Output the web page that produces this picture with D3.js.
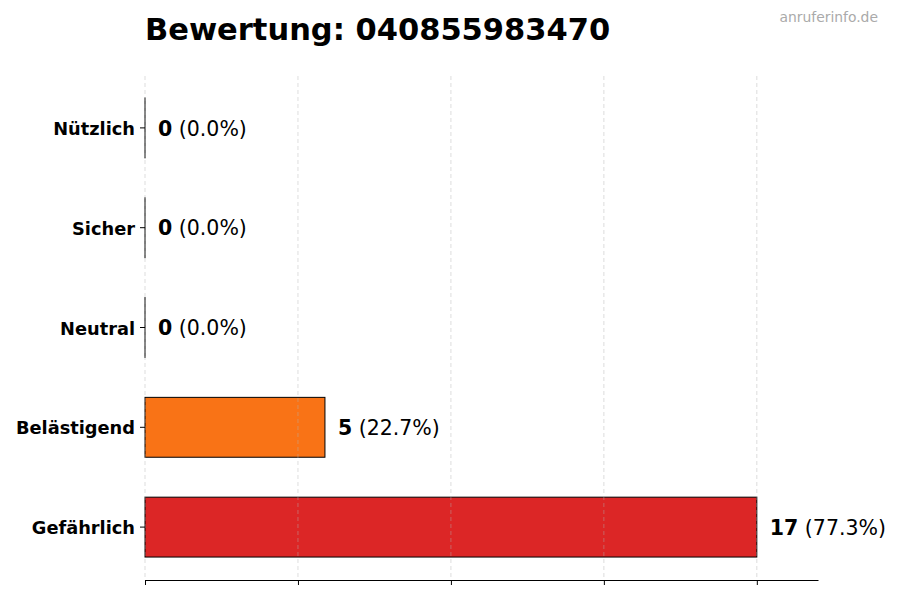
<!DOCTYPE html>
<html><head><meta charset="utf-8">
<script src="https://cdn.jsdelivr.net/npm/d3@7"></script>
<style>body{margin:0;background:#fff}svg{display:block;font-family:"DejaVu Sans",sans-serif}</style>
</head><body><svg id="c" width="900" height="600"></svg>
<script>
const categories = ["Gefährlich","Belästigend","Neutral","Sicher","Nützlich"];
const counts = [17,5,0,0,0];
const percents = ["77.3%","22.7%","0.0%","0.0%","0.0%"];
const colors = ["#dc2626","#f97316","#9ca3af","#16a34a","#2563eb"];
const titleText = "Bewertung: 040855983470";
const watermark = "anruferinfo.de";

(function(){
const svg = d3.select("#c");
const mL = 145, mR = 818, mT = 76, mB = 580;
const maxV = d3.max(counts);
const x = d3.scaleLinear().domain([0, maxV*1.1]).range([mL, mR]);
const y = d3.scaleLinear().domain([-0.53, 4.52]).range([mB, mT]);
const barH = 0.6;
const tickVals = d3.range(0,5).map(i => i*maxV/4);

svg.append("g").selectAll("rect").data(categories).join("rect")
  .attr("x", x(0))
  .attr("y", (d,i) => y(i+barH/2))
  .attr("width", (d,i) => Math.max(0.01, x(counts[i]) - x(0)))
  .attr("height", y(0) - y(barH))
  .attr("fill", (d,i) => colors[i])
  .attr("stroke", "#000").attr("stroke-width", 1);

svg.append("g").selectAll("line").data(tickVals).join("line")
  .attr("x1", d => x(d)).attr("x2", d => x(d))
  .attr("y1", mT).attr("y2", mB)
  .attr("stroke", "#b0b0b0").attr("stroke-opacity", 0.55)
  .attr("stroke-dasharray", "4,3").attr("stroke-width", 0.8);

const xAxis = d3.axisBottom(x).tickValues(tickVals).tickFormat("").tickSize(5).tickSizeOuter(0);
const gx = svg.append("g").attr("transform", `translate(0,${mB})`).call(xAxis);
gx.select(".domain").attr("stroke","#000").attr("stroke-width",1);
gx.selectAll(".tick line").attr("stroke","#000");

const gy = svg.append("g");
categories.forEach((c,i) => {
  gy.append("line").attr("x1", mL-5).attr("x2", mL).attr("y1", y(i)).attr("y2", y(i)).attr("stroke","#000");
  gy.append("text").attr("x", mL-10).attr("y", y(i)).attr("dy","0.4em")
    .attr("text-anchor","end").attr("font-weight","bold").attr("font-size",17.8)
    .attr("fill","#000").text(c);
});

categories.forEach((c,i) => {
  const t = svg.append("text").attr("x", x(counts[i]) + 13).attr("y", y(i)).attr("dy","0.38em")
    .attr("font-size",20.5).attr("fill","#000");
  t.append("tspan").attr("font-weight","bold").text(counts[i]);
  t.append("tspan").text(" (" + percents[i] + ")");
});

svg.append("text").attr("x", mL).attr("y", 40).attr("font-size",30.5).attr("font-weight","bold")
  .attr("fill","#000").text(titleText);
svg.append("text").attr("x", 878).attr("y", 22).attr("text-anchor","end").attr("font-size",13.9)
  .attr("fill","#aaa").text(watermark);
})();
</script></body></html>
